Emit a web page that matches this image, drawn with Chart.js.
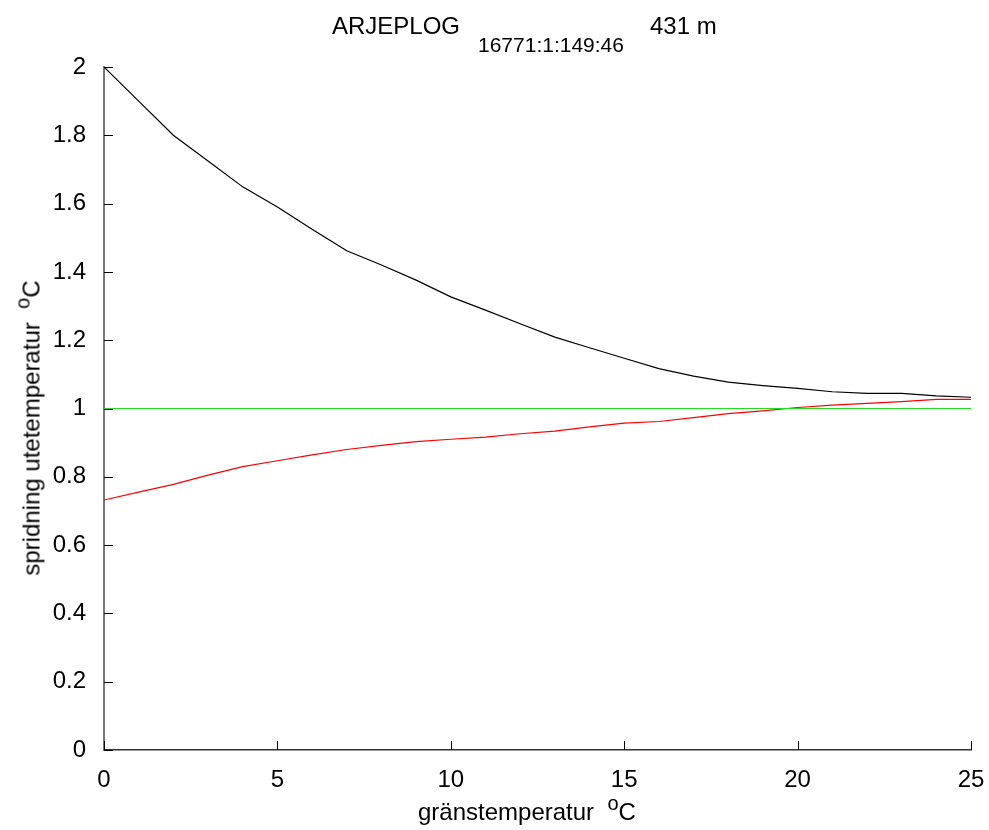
<!DOCTYPE html>
<html>
<head>
<meta charset="utf-8">
<script src="https://cdn.jsdelivr.net/npm/chart.js@4"></script>
<style>
  body { margin: 0; background: #fff; }
  #wrap { position: relative; width: 989px; height: 830px; font-family: "Liberation Sans", Arial, sans-serif; color: #000; }
  .lbl { position: absolute; white-space: nowrap; font-size: 24px; line-height: 28px; }
  .small { font-size: 21px; }
  .sup { font-size: 20px; position: relative; top: -10px; }
</style>
</head>
<body>
<div id="wrap">
  <canvas id="chart" width="989" height="830"></canvas>
  <div class="lbl" style="left:332px; top:12px;">ARJEPLOG</div>
  <div class="lbl small" style="left:478px; top:31px;">16771:1:149:46</div>
  <div class="lbl" style="left:650px; top:12px;">431 m</div>
  <div class="lbl" id="xlabel" style="left:418px; top:798px;">gränstemperatur&nbsp; <span class="sup">o</span>C</div>
  <div class="lbl" id="ylabel" style="left:32px; top:428px; transform: translate(-50%, -50%) rotate(-90deg);">spridning utetemperatur&nbsp; <span class="sup">o</span>C</div>
</div>
<script>
// x values (gränstemperatur)
const temps = [0,1,2,3,4,5,6,7,8,9,10,11,12,13,14,15,16,17,18,19,20,21,22,23,24,25];
// upper curve (black)
const upper = [2.0,1.90,1.80,1.725,1.649,1.59,1.525,1.462,1.420,1.376,1.327,1.288,1.248,1.209,1.178,1.147,1.117,1.095,1.077,1.067,1.059,1.049,1.044,1.044,1.037,1.033];
// lower curve (red)
const lower = [0.732,0.755,0.778,0.805,0.830,0.847,0.864,0.880,0.892,0.903,0.910,0.916,0.926,0.934,0.946,0.957,0.962,0.973,0.985,0.993,1.003,1.010,1.015,1.020,1.027,1.027];
// reference line (green)
const refX = [0, 25];
const refY = [1, 1];

const xTicks = [0,5,10,15,20,25];
const yTicks = [0,0.2,0.4,0.6,0.8,1,1.2,1.4,1.6,1.8,2];

function toPoints(xs, ys) {
    return xs.map((x, i) => ({ x: x, y: ys[i] }));
}

// Draw inward tick marks like the original plot
const innerTicks = {
    id: 'innerTicks',
    afterDatasetsDraw(chart) {
        const ctx = chart.ctx;
        const xs = chart.scales.x;
        const ys = chart.scales.y;
        const a = chart.chartArea;
        ctx.save();
        ctx.strokeStyle = '#000';
        ctx.lineWidth = 1;
        ctx.beginPath();
        yTicks.forEach(v => {
            const py = Math.round(ys.getPixelForValue(v)) + 0.5;
            ctx.moveTo(a.left, py);
            ctx.lineTo(a.left + 9, py);
        });
        xTicks.forEach(v => {
            const px = Math.round(xs.getPixelForValue(v)) + 0.5;
            ctx.moveTo(px, a.bottom);
            ctx.lineTo(px, a.bottom - 9);
        });
        ctx.stroke();
        ctx.restore();
    }
};

const ctx = document.getElementById('chart').getContext('2d');
new Chart(ctx, {
    type: 'line',
    data: {
        datasets: [
            { data: toPoints(temps, upper), borderColor: '#000000', borderWidth: 1.2, pointRadius: 0, tension: 0 },
            { data: toPoints(refX, refY), borderColor: '#22dd22', borderWidth: 1.2, pointRadius: 0, tension: 0 },
            { data: toPoints(temps, lower), borderColor: '#ff0000', borderWidth: 1.2, pointRadius: 0, tension: 0 }
        ]
    },
    options: {
        responsive: false,
        animation: false,
        layout: { padding: { top: 67, right: 18, left: 0, bottom: 0 } },
        plugins: { legend: { display: false }, tooltip: { enabled: false }, title: { display: false } },
        scales: {
            x: {
                type: 'linear', min: 0, max: 25,
                afterBuildTicks: s => { s.ticks = xTicks.map(v => ({ value: v })); },
                afterFit: s => { s.height = 80; s.paddingLeft = 0; s.paddingRight = 0; },
                grid: { display: false },
                border: { display: true, color: '#333', width: 1.5 },
                ticks: { color: '#000', padding: 8, maxRotation: 0, font: { family: 'Liberation Sans', size: 24 } }
            },
            y: {
                type: 'linear', min: 0, max: 2,
                afterBuildTicks: s => { s.ticks = yTicks.map(v => ({ value: v })); },
                afterFit: s => { s.width = 104; s.paddingTop = 0; s.paddingBottom = 0; },
                grid: { display: false },
                border: { display: true, color: '#777', width: 2 },
                ticks: {
                    color: '#000', padding: 10,
                    font: { family: 'Liberation Sans', size: 24 },
                    callback: v => String(+v.toFixed(1))
                }
            }
        }
    },
    plugins: [innerTicks]
});
</script>
</body>
</html>
